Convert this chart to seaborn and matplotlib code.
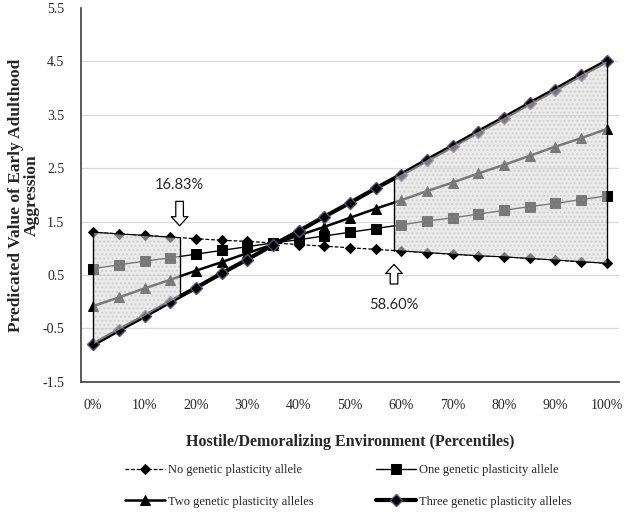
import numpy as np
import matplotlib
matplotlib.use("Agg")
import matplotlib.pyplot as plt
import seaborn as sns

# environment percentiles (x) and predicted values per group
pcts = [0, 5, 10, 15, 20, 25, 30, 35, 40, 45, 50, 55, 60, 65, 70, 75, 80, 85, 90, 95, 100]
no_allele = [1.30, 1.27, 1.24, 1.21, 1.18, 1.15, 1.13, 1.10, 1.07, 1.04, 1.01,
             0.98, 0.95, 0.92, 0.89, 0.86, 0.84, 0.81, 0.78, 0.75, 0.72]
one_allele = [0.62, 0.69, 0.76, 0.82, 0.89, 0.96, 1.03, 1.10, 1.16, 1.23, 1.30,
              1.37, 1.44, 1.51, 1.57, 1.64, 1.71, 1.78, 1.84, 1.91, 1.98]
two_alleles = [-0.08, 0.08, 0.25, 0.41, 0.58, 0.74, 0.91, 1.07, 1.24, 1.40, 1.57,
               1.74, 1.90, 2.07, 2.23, 2.40, 2.56, 2.73, 2.90, 3.06, 3.23]
three_alleles = [-0.80, -0.53, -0.27, 0.00, 0.26, 0.53, 0.79, 1.06, 1.32, 1.59, 1.85,
                 2.12, 2.38, 2.65, 2.91, 3.18, 3.44, 3.71, 3.97, 4.24, 4.50]

# regions of significance
left_cut = 16.83
right_cut = 58.60
x_ticklabels = ["0%", "10%", "20%", "30%", "40%", "50%", "60%", "70%", "80%", "90%", "100%"]
y_ticks = [-1.5, -0.5, 0.5, 1.5, 2.5, 3.5, 4.5, 5.5]

sns.set_style("white")
plt.rcParams['font.family'] = ['Liberation Serif', 'DejaVu Serif']

fig = plt.figure(figsize=(6.27, 5.21), dpi=100)
ax = fig.add_axes([0.129, 0.267, 0.858, 0.718])

# gridlines
for v in y_ticks[1:-1]:
    ax.axhline(v, color="#d9d9d9", lw=0.9, zorder=0)

sns.lineplot(x=pcts, y=no_allele, ax=ax, color="black", lw=0.9, linestyle=(0, (3, 1.5)),
             marker="D", markersize=5, markeredgecolor="black", label="No genetic plasticity allele", zorder=3)
sns.lineplot(x=pcts, y=one_allele, ax=ax, color="black", lw=1.0,
             marker="s", markersize=6.5, markeredgecolor="black", label="One genetic plasticity allele", zorder=3)
sns.lineplot(x=pcts, y=two_alleles, ax=ax, color="black", lw=1.8,
             marker="^", markersize=7, markeredgecolor="black", label="Two genetic plasticity alleles", zorder=3)
sns.lineplot(x=pcts, y=three_alleles, ax=ax, color="black", lw=3.0,
             marker="D", markersize=6.5, markeredgecolor="#5b4a7a", markeredgewidth=1.0,
             label="Three genetic plasticity alleles", zorder=3)
handles, labels = ax.get_legend_handles_labels()
ax.get_legend().remove()

# shaded regions between the no-allele and three-allele lines
xp = np.array(pcts, dtype=float)
for lo, hi in [(0, left_cut), (right_cut, 100)]:
    xs = np.concatenate([[lo], xp[(xp > lo) & (xp < hi)], [hi]])
    top = np.interp(xs, xp, no_allele)
    bot = np.interp(xs, xp, three_alleles)
    ax.fill_between(xs, bot, top, facecolor=(0.86, 0.86, 0.86, 0.55), edgecolor="none", zorder=4)
    ax.fill_between(xs, bot, top, facecolor="none", edgecolor=(0.6, 0.6, 0.6, 0.3),
                    hatch="....", lw=0, zorder=4)
    ax.plot(xs, top, color="black", lw=0.8, zorder=5)
    for xv in (lo, hi):
        ax.plot([xv, xv], [np.interp(xv, xp, three_alleles), np.interp(xv, xp, no_allele)],
                color="black", lw=1.0, zorder=5)

# hollow arrows with cut-off labels
arrow = dict(arrowstyle="simple,head_width=1.2,head_length=0.65,tail_width=0.55",
             fc="white", ec="black", lw=0.9)
ax.annotate("", xy=(left_cut, 1.37), xytext=(left_cut, 1.93), arrowprops=arrow, zorder=6)
ax.text(left_cut, 2.19, "16.83%", ha="center", va="center", fontsize=10.5, family=["Lato", "DejaVu Sans"])
ax.annotate("", xy=(right_cut, 0.75), xytext=(right_cut, 0.28), arrowprops=arrow, zorder=6)
ax.text(right_cut, -0.07, "58.60%", ha="center", va="center", fontsize=10.5, family=["Lato", "DejaVu Sans"])

ax.set_xlim(-2.4, 102.4)
ax.set_ylim(-1.5, 5.5)
ax.set_xticks(pcts)
ax.set_xticklabels([x_ticklabels[i // 2] if i % 2 == 0 else "" for i in range(len(pcts))], fontsize=10)
ax.set_yticks(y_ticks)
ax.set_yticklabels([f"{v:.1f}" for v in y_ticks], fontsize=10)
ax.tick_params(axis="x", direction="inout", length=6, width=1, color="#404040", pad=9)
ax.tick_params(axis="y", direction="out", length=4, width=1, color="#404040", pad=8)

for s in ["top", "right"]:
    ax.spines[s].set_visible(False)
for s in ["left", "bottom"]:
    ax.spines[s].set_color("#404040")
    ax.spines[s].set_linewidth(1.2)

ax.set_xlabel("Hostile/Demoralizing Environment (Percentiles)", fontsize=11.5, fontweight="bold", labelpad=16)
ax.set_ylabel("Predicated Value of Early Adulthood\nAggression", fontsize=12.5, fontweight="bold",
              labelpad=2, linespacing=0.95)

# legend laid out row by row: No / One on top, Two / Three below
order = [0, 2, 1, 3]
fig.legend([handles[i] for i in order], [labels[i] for i in order],
           loc="upper left", bbox_to_anchor=(0.199, 0.109), ncol=2, frameon=False, fontsize=9,
           borderpad=0, borderaxespad=0, handlelength=3.2, columnspacing=5.0,
           labelspacing=1.55, handletextpad=0.25)

fig.savefig("out.png", dpi=100)
